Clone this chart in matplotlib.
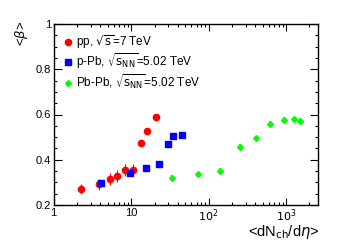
import numpy as np
import matplotlib.pyplot as plt
from matplotlib.ticker import LogLocator, MultipleLocator, NullFormatter, FixedLocator, FixedFormatter

# pp, sqrt(s)=7 TeV
pp_x = [2.25, 3.8, 5.3, 6.6, 8.3, 10.5, 13.2, 16.2, 20.7]
pp_y = [0.272, 0.291, 0.315, 0.328, 0.355, 0.355, 0.473, 0.526, 0.589]
pp_err = [0.022, 0.025, 0.025, 0.025, 0.025, 0.025, 0.012, 0.012, 0.012]

# p-Pb, sqrt(sNN)=5.02 TeV
ppb_x = [4.05, 9.6, 15.6, 22.6, 29.7, 34.8, 45.5]
ppb_y = [0.297, 0.340, 0.362, 0.380, 0.470, 0.505, 0.508]

# Pb-Pb, sqrt(sNN)=5.02 TeV
pbpb_x = [33.4, 73, 142, 253, 408, 627, 935, 1250, 1510]
pbpb_y = [0.321, 0.336, 0.350, 0.456, 0.495, 0.559, 0.576, 0.579, 0.571]
pbpb_err = [0.012, 0.012, 0.012, 0.012, 0.012, 0.012, 0.012, 0.012, 0.012]

plt.rcParams.update({'font.size': 8, 'font.family': 'Liberation Sans'})
fig = plt.figure(figsize=(3.55, 2.42), dpi=100)
ax = fig.add_axes([53.7/355, 1-205/242, (318.3-53.7)/355, (205-24)/242])

# error bars first, markers on top
ax.errorbar(pp_x, pp_y, yerr=pp_err, fmt='none', ecolor='red', elinewidth=0.8, capsize=0, zorder=2)
ax.errorbar(pbpb_x, pbpb_y, yerr=pbpb_err, fmt='none', ecolor='#00ff00', elinewidth=1.5, capsize=0, zorder=2)
ax.plot(pp_x, pp_y, 'o', color='red', ms=4.5, label=r'pp, $\sqrt{\rm s}$=7 TeV', zorder=3)
ax.plot(ppb_x, ppb_y, 's', color='blue', ms=4.5, label=r'p-Pb, $\sqrt{\rm s_{NN}}$=5.02 TeV', zorder=4)
ax.plot(pbpb_x, pbpb_y, 'D', color='#00ff00', ms=3, label=r'Pb-Pb, $\sqrt{\rm s_{NN}}$=5.02 TeV', zorder=3)

ax.set_xscale('log')
ax.set_xlim(1, 2600)
ax.set_ylim(0.2, 1.0)
ax.yaxis.set_major_locator(FixedLocator([0.2, 0.4, 0.6, 0.8, 1.0]))
ax.yaxis.set_major_formatter(FixedFormatter(['0.2', '0.4', '0.6', '0.8', '1']))
ax.yaxis.set_minor_locator(MultipleLocator(0.05))
ax.xaxis.set_major_locator(FixedLocator([1, 10, 100, 1000]))
ax.xaxis.set_major_formatter(FixedFormatter(['1', '10', r'$10^2$', r'$10^3$']))
ax.xaxis.set_minor_locator(LogLocator(base=10, subs=np.arange(2, 10)))
ax.xaxis.set_minor_formatter(NullFormatter())
ax.tick_params(which='both', direction='in', top=True, right=True, width=0.8, labelsize=8, pad=2)
ax.tick_params(which='major', length=5)
ax.tick_params(which='minor', length=2.5)
ax.tick_params(axis='y', which='major', length=6)
for s in ax.spines.values():
    s.set_linewidth(1.0)

fig.text(22/355, 1-33/242, r'<$\beta$>', rotation=90, fontsize=9.5, ha='center', va='center')
fig.text(319/355, 1-232/242, r'<dN$_{\rm ch}$/d$\eta$>', fontsize=10.5, ha='right', va='center')

leg = ax.legend(loc='upper left', bbox_to_anchor=(0.0, 1.0), frameon=False, fontsize=8.5,
                handlelength=0.8, handletextpad=0.3, labelspacing=0.05, borderaxespad=0.4)

fig.savefig('out.png', dpi=100)
